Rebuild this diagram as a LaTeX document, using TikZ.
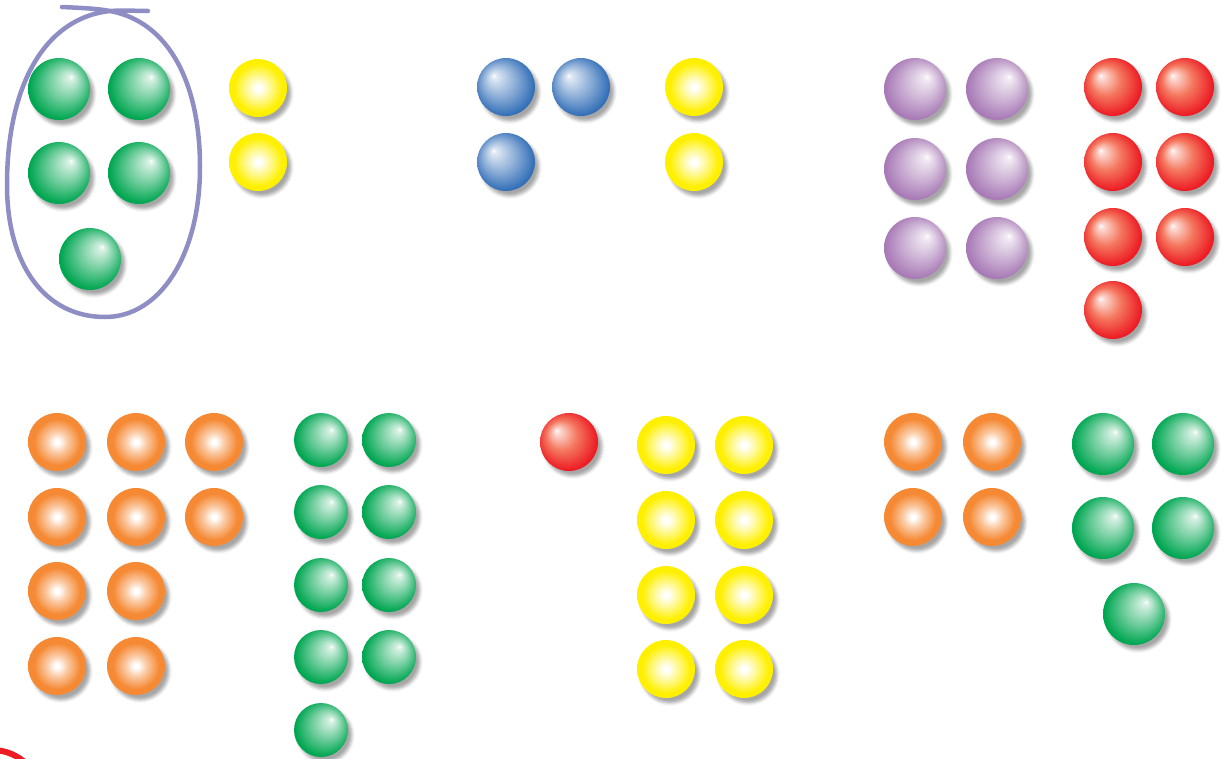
\documentclass[tikz,border=0pt]{standalone}
\usetikzlibrary{shadows.blur}
\definecolor{beadgreen}{RGB}{0,166,81}
\definecolor{beadblue}{RGB}{52,112,184}
\definecolor{beadyellow}{RGB}{255,240,0}
\definecolor{beadpurple}{RGB}{168,122,182}
\definecolor{beadred}{RGB}{237,28,36}
\definecolor{beadredlight}{RGB}{244,120,95}
\definecolor{beadorange}{RGB}{245,137,52}
\definecolor{loopblue}{RGB}{142,142,196}
% bead shadings: highlight offset, colour
\newcommand{\beadshade}[4]{\pgfdeclareradialshading{#1}{\pgfpoint{#2}{#3}}{color(0bp)=(white); color(2bp)=(#4!15!white); color(15bp)=(#4!60!white); color(26bp)=(#4); color(32bp)=(#4)}}
\beadshade{sh green}{10bp}{10bp}{beadgreen}
\beadshade{sh purple}{10bp}{10bp}{beadpurple}
\beadshade{sh blue}{-11bp}{10bp}{beadblue}
\pgfdeclareradialshading{sh red}{\pgfpoint{-11bp}{10bp}}{color(0bp)=(white); color(2bp)=(beadredlight!25!white); color(13bp)=(beadredlight); color(26bp)=(beadred); color(32bp)=(beadred)}
\pgfdeclareradialshading{sh orange}{\pgfpoint{0bp}{0bp}}{color(0bp)=(white); color(2bp)=(white); color(9bp)=(beadorange!45!white); color(20bp)=(beadorange); color(30bp)=(beadorange)}
\pgfdeclareradialshading{sh yellow}{\pgfpoint{0bp}{0bp}}{color(0bp)=(white); color(2bp)=(white); color(10bp)=(beadyellow!40!white); color(21bp)=(beadyellow); color(30bp)=(beadyellow)}
\tikzset{
  bead/.style={circle,inner sep=0pt,minimum size=58pt,shading=#1,
    blur shadow={shadow xshift=4pt,shadow yshift=-5pt,shadow blur radius=3pt,shadow opacity=35}},
  bigbead/.style={bead=#1,minimum size=62pt},
  smallbead/.style={bead=#1,minimum size=54pt},
  loopline/.style={loopblue,line width=4.5pt,line cap=round}
}
\begin{document}
\begin{tikzpicture}[x=1pt,y=-1pt]
  \useasboundingbox (0,0) rectangle (1224,758);
  % top row
  \foreach \c/\x/\y [count=\i] in {1/59/89,2/139/89,3/59/173,4/139/173} {\node[bigbead=sh green] (ga\i) at (\x,\y) {};}
  \node[bigbead=sh green] (ga5) at (90,259) {};
  \draw[loopline] (62,7) .. controls (85,8) and (100,9) .. (110,11) .. controls (170,22) and (200,85) .. (200,167) .. controls (200,255) and (160,317) .. (105,317) .. controls (45,317) and (7,265) .. (7,185) .. controls (7,85) and (45,18) .. (110,11) .. controls (125,10) and (135,11) .. (148,11);
  \node[bead=sh yellow] (ya1) at (258,88) {}; \node[bead=sh yellow] (ya2) at (258,162) {};
  \node[bead=sh blue] (b1) at (506,87) {}; \node[bead=sh blue] (b2) at (581,87) {}; \node[bead=sh blue] (b3) at (506,162) {};
  \node[bead=sh yellow] (yb1) at (694,87) {}; \node[bead=sh yellow] (yb2) at (694,162) {};
  \foreach \y [count=\i] in {89,169,248} {\node[bigbead=sh purple] (pl\i) at (915,\y) {}; \node[bigbead=sh purple] (pr\i) at (997,\y) {};}
  \foreach \y [count=\i] in {87,162,237} {\node[bead=sh red] (rl\i) at (1113,\y) {}; \node[bead=sh red] (rr\i) at (1185,\y) {};}
  \node[bead=sh red] (rl4) at (1113,310) {};
  % bottom row
  \foreach \y [count=\i] in {442,517,591,666} {\node[bead=sh orange] (oa\i) at (57,\y) {}; \node[bead=sh orange] (ob\i) at (136,\y) {};}
  \node[bead=sh orange] (oc1) at (214,442) {}; \node[bead=sh orange] (oc2) at (214,517) {};
  \foreach \y [count=\i] in {440,512,585,657} {\node[smallbead=sh green] (gl\i) at (321,\y) {}; \node[smallbead=sh green] (gr\i) at (389,\y) {};}
  \node[smallbead=sh green] (gl5) at (321,730) {};
  \node[bead=sh red] (r0) at (569,442) {};
  \foreach \y [count=\i] in {445,520,595,669} {\node[bead=sh yellow] (yl\i) at (666,\y) {}; \node[bead=sh yellow] (yr\i) at (744,\y) {};}
  \foreach \y [count=\i] in {442,517} {\node[bead=sh orange] (od\i) at (913,\y) {}; \node[bead=sh orange] (oe\i) at (992,\y) {};}
  \foreach \y [count=\i] in {444,528} {\node[bigbead=sh green] (gd\i) at (1103,\y) {}; \node[bigbead=sh green] (ge\i) at (1183,\y) {};}
  \node[bigbead=sh green] (gd3) at (1134,614) {};
  \draw[beadred,line width=6pt] (-8,800) circle[radius=50];
\end{tikzpicture}
\end{document}
